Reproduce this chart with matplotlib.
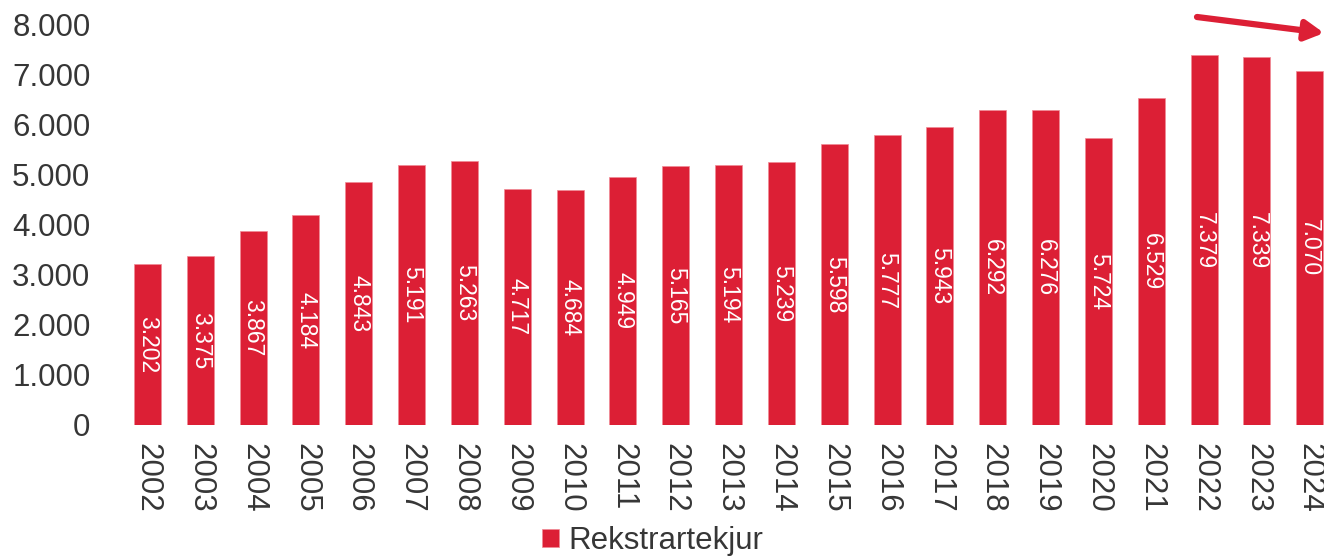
import matplotlib
matplotlib.use("Agg")
import matplotlib.pyplot as plt
from matplotlib.ticker import FuncFormatter

years = [str(y) for y in range(2002, 2025)]
values = [3202, 3375, 3867, 4184, 4843, 5191, 5263, 4717, 4684, 4949, 5165, 5194,
          5239, 5598, 5777, 5943, 6292, 6276, 5724, 6529, 7379, 7339, 7070]
series_name = "Rekstrartekjur"
yticks = [0, 1000, 2000, 3000, 4000, 5000, 6000, 7000, 8000]

RED = "#DC1F35"
TXT = "#363636"

plt.rcParams['font.family'] = ['Liberation Sans', 'DejaVu Sans']

W, H = 1324, 558
fig = plt.figure(figsize=(W / 100, H / 100), dpi=100)
left = 121 / W
bottom = (H - 425) / H
top = (H - 24) / H
ax = fig.add_axes([left, bottom, 1.0 - left, top - bottom])

def fmt(v):
    return f"{int(round(v)):,}".replace(",", ".")

x = list(range(len(years)))
bars = ax.bar(x, values, width=0.51, color=RED, edgecolor="#F08A95", linewidth=0.5,
              label=series_name)
for xi, v in zip(x, values):
    ax.text(xi, v / 2, fmt(v), rotation=270, ha="center", va="center",
            color="white", fontsize=16.5, rotation_mode="anchor")

ax.set_xlim(-0.5, 22.27)
ax.set_ylim(0, 8000)
ax.set_yticks(yticks)
ax.yaxis.set_major_formatter(FuncFormatter(lambda v, p: fmt(v)))
ax.set_xticks(x)
ax.set_xticklabels(years, rotation=270)
ax.tick_params(axis="y", length=0, pad=22, labelsize=22.5, labelcolor=TXT)
ax.tick_params(axis="x", length=0, pad=13, labelsize=22.5, labelcolor=TXT)
for s in ax.spines.values():
    s.set_visible(False)
ax.set_facecolor("none")

leg = fig.legend(handles=[bars], labels=[series_name], loc="center",
                 bbox_to_anchor=(653 / W, 1 - 541 / H), frameon=False,
                 fontsize=22.5, handlelength=0.55, handleheight=0.55,
                 handletextpad=0.3, labelcolor=TXT)

ax.annotate("", xy=(1324, H - 33), xytext=(1197, H - 17),
            xycoords="figure pixels", textcoords="figure pixels",
            arrowprops=dict(arrowstyle="-|>,head_length=1.1,head_width=0.6",
                            color=RED, lw=4.5, shrinkA=0, shrinkB=0),
            annotation_clip=False)

fig.savefig("out.png", dpi=100)
